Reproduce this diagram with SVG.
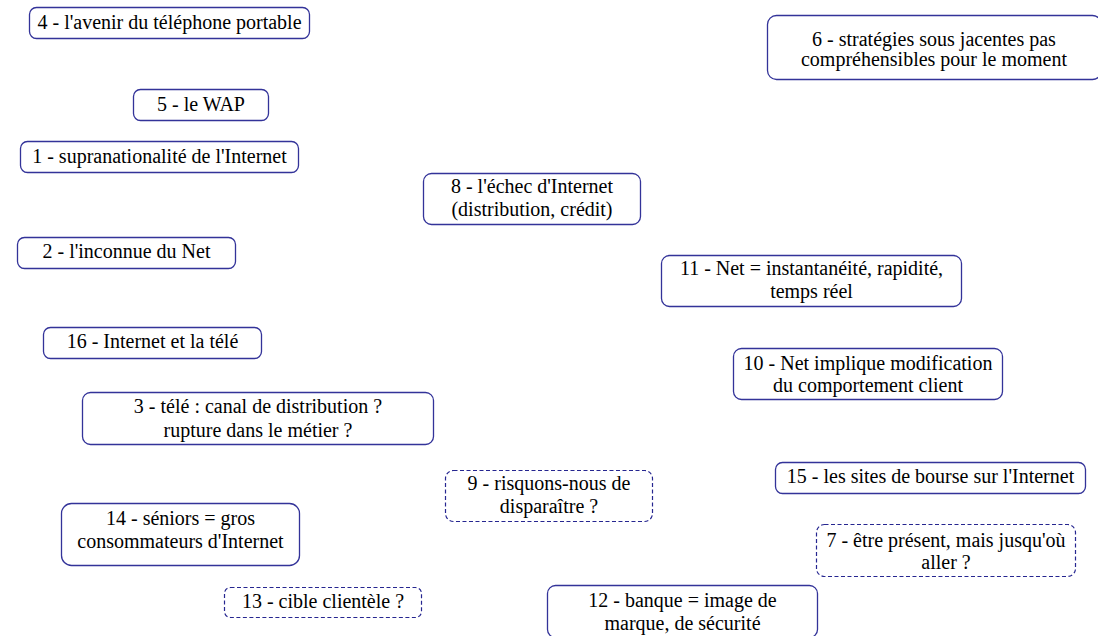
<svg xmlns="http://www.w3.org/2000/svg" width="1098" height="636" viewBox="0 0 1098 636">
<style>
.b{fill:#fff;stroke:#333399;stroke-width:1.3}
.d{fill:#fff;stroke:#262690;stroke-width:1.2;stroke-dasharray:4 2.5}
text{font-family:'Liberation Serif','Times New Roman',serif;font-size:20px;fill:#000;text-anchor:middle}
</style>
<rect width="1098" height="636" fill="#fff"/>
<g id="connectors"></g>
<g id="n4"><rect class="b" x="29.5" y="7.5" width="280" height="31" rx="7"/><text x="169.5" y="29">4 - l'avenir du téléphone portable</text></g>
<g id="n5"><rect class="b" x="133.5" y="89.5" width="135" height="31" rx="7"/><text x="201" y="111">5 - le WAP</text></g>
<g id="n1"><rect class="b" x="20.5" y="141.5" width="278" height="31" rx="7"/><text x="159.5" y="163">1 - supranationalité de l'Internet</text></g>
<g id="n6"><rect class="b" x="767.5" y="15.5" width="334" height="64" rx="9"/><text x="934" y="46">6 - stratégies sous jacentes pas</text><text x="934" y="66">compréhensibles pour le moment</text></g>
<g id="n8"><rect class="b" x="423.5" y="173.5" width="217" height="51" rx="8"/><text x="532" y="193">8 - l'échec d'Internet</text><text x="532" y="216">(distribution, crédit)</text></g>
<g id="n2"><rect class="b" x="17.5" y="237.5" width="218" height="31" rx="7"/><text x="126.5" y="258">2 - l'inconnue du Net</text></g>
<g id="n11"><rect class="b" x="661.5" y="255.5" width="300" height="51" rx="8"/><text x="811.5" y="275">11 - Net = instantanéité, rapidité,</text><text x="811.5" y="298">temps réel</text></g>
<g id="n16"><rect class="b" x="43.5" y="327.5" width="218" height="31" rx="7"/><text x="152.5" y="348">16 - Internet et la télé</text></g>
<g id="n10"><rect class="b" x="733.5" y="348.5" width="269" height="51" rx="8"/><text x="868" y="370">10 - Net implique modification</text><text x="868" y="392">du comportement client</text></g>
<g id="n3"><rect class="b" x="82.5" y="392.5" width="351" height="52" rx="8"/><text x="258" y="413">3 - télé : canal de distribution ?</text><text x="258" y="437">rupture dans le métier ?</text></g>
<g id="n9"><rect class="d" x="445.5" y="470.5" width="207" height="51" rx="8"/><text x="549" y="490">9 - risquons-nous de</text><text x="549" y="513">disparaître ?</text></g>
<g id="n15"><rect class="b" x="775.5" y="462.5" width="310" height="31" rx="7"/><text x="930.5" y="483">15 - les sites de bourse sur l'Internet</text></g>
<g id="n14"><rect class="b" x="61.5" y="503.5" width="238" height="62" rx="10"/><text x="180.5" y="525">14 - séniors = gros</text><text x="180.5" y="548">consommateurs d'Internet</text></g>
<g id="n7"><rect class="d" x="816.5" y="524.5" width="259" height="52" rx="8"/><text x="946" y="547">7 - être présent, mais jusqu'où</text><text x="946" y="569">aller ?</text></g>
<g id="n13"><rect class="d" x="224.5" y="587.5" width="197" height="30" rx="6"/><text x="323" y="608">13 - cible clientèle ?</text></g>
<g id="n12"><rect class="b" x="547.5" y="585.5" width="270" height="52" rx="8"/><text x="682.5" y="607">12 - banque = image de</text><text x="682.5" y="630">marque, de sécurité</text></g>
</svg>
